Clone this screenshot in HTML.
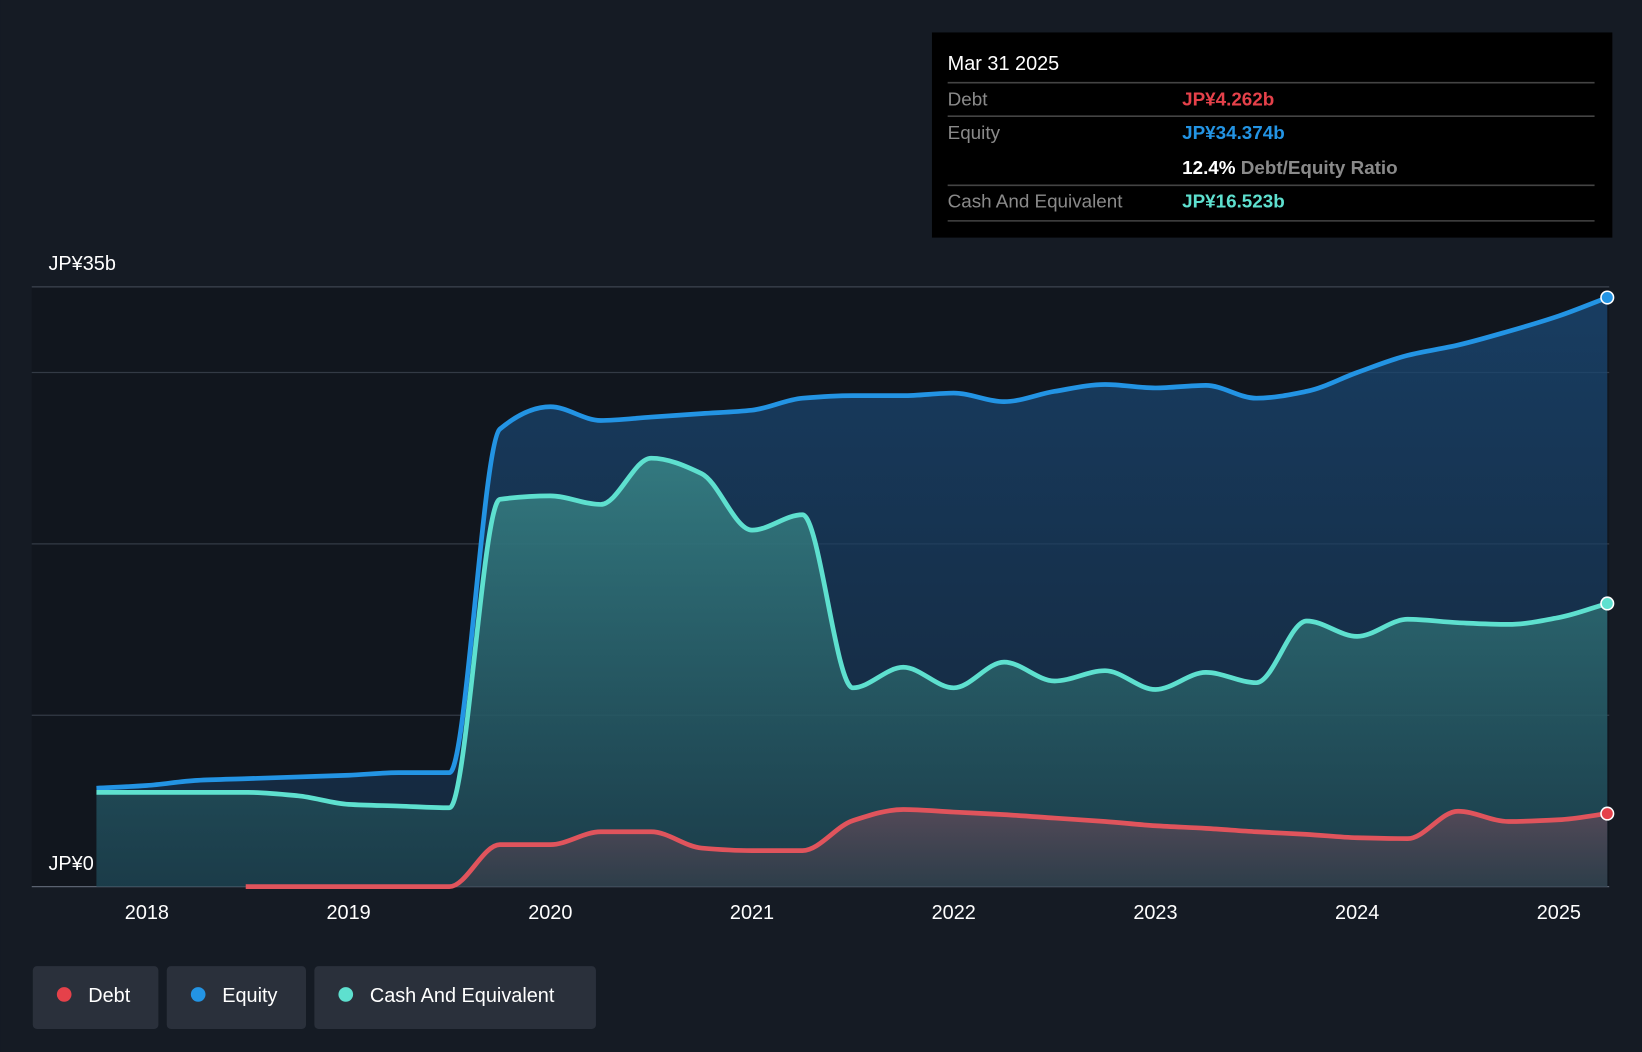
<!DOCTYPE html>
<html><head><meta charset="utf-8">
<style>
html,body{margin:0;padding:0;background:#151b24;overflow:hidden}
svg{display:block;font-family:"Liberation Sans",sans-serif}
</style></head>
<body>
<svg id="chart" width="1642" height="1052" viewBox="0 0 1568 1005">
<defs>
<linearGradient id="eqG" x1="0" y1="0" x2="0" y2="1"><stop offset="0" stop-color="#1a4a78" stop-opacity="0.75"/><stop offset="1" stop-color="#17324f" stop-opacity="0.6"/></linearGradient>
<linearGradient id="caG" x1="0" y1="0" x2="0" y2="1"><stop offset="0" stop-color="#3a8a8a" stop-opacity="0.8"/><stop offset="1" stop-color="#1f4a52" stop-opacity="0.6"/></linearGradient>
<linearGradient id="deG" x1="0" y1="0" x2="0" y2="1"><stop offset="0" stop-color="#6a4a5a" stop-opacity="0.7"/><stop offset="1" stop-color="#3a3f4a" stop-opacity="0.6"/></linearGradient>
</defs>
<rect x="0" y="0" width="1568" height="1005" fill="#151b24"/>
<rect x="30" y="274" width="1507" height="573" fill="#11161e"/>
<g id="grid"></g>
<g id="series"></g>
<g id="xaxis"></g>
<text x="46" y="258" fill="#ffffff" font-size="19">JP¥35b</text>
<text x="46" y="831" fill="#ffffff" font-size="19">JP¥0</text>

<g>
<rect x="890" y="31" width="650" height="196" fill="#000000"/>
<text x="905" y="67" fill="#ffffff" font-size="19">Mar 31 2025</text>
<line x1="905" y1="79" x2="1523" y2="79" stroke="#444" stroke-width="1.5"/>
<text x="905" y="101" fill="#8a8a8a" font-size="18">Debt</text>
<text x="1129" y="101" fill="#e5414a" font-size="18" font-weight="bold">JP¥4.262b</text>
<line x1="905" y1="111" x2="1523" y2="111" stroke="#444" stroke-width="1.5"/>
<text x="905" y="133" fill="#8a8a8a" font-size="18">Equity</text>
<text x="1129" y="133" fill="#2394e4" font-size="18" font-weight="bold">JP¥34.374b</text>
<text x="1129" y="166" fill="#ffffff" font-size="18" font-weight="bold">12.4% <tspan fill="#8a8a8a">Debt/Equity Ratio</tspan></text>
<line x1="905" y1="177" x2="1523" y2="177" stroke="#444" stroke-width="1.5"/>
<text x="905" y="198" fill="#8a8a8a" font-size="18">Cash And Equivalent</text>
<text x="1129" y="198" fill="#5ee0cf" font-size="18" font-weight="bold">JP¥16.523b</text>
<line x1="905" y1="211" x2="1523" y2="211" stroke="#444" stroke-width="1.5"/>
</g>

<g>
<g><rect x="31" y="923" width="120" height="60" rx="4" fill="#2a303b"/><circle cx="61" cy="950" r="7" fill="#e5414a"/><text x="84" y="957" fill="#fff" font-size="19">Debt</text></g>
<g><rect x="159" y="923" width="133" height="60" rx="4" fill="#2a303b"/><circle cx="189" cy="950" r="7" fill="#2394e4"/><text x="212" y="957" fill="#fff" font-size="19">Equity</text></g>
<g><rect x="300" y="923" width="269" height="60" rx="4" fill="#2a303b"/><circle cx="330" cy="950" r="7" fill="#5ee0cf"/><text x="353" y="957" fill="#fff" font-size="19">Cash And Equivalent</text></g>
</g>
</svg>
<script>
const NS="http://www.w3.org/2000/svg";
const dates=[2017.75,2018,2018.25,2018.5,2018.75,2019,2019.25,2019.5,2019.75,2020,2020.25,2020.5,2020.75,2021,2021.25,2021.5,2021.75,2022,2022.25,2022.5,2022.75,2023,2023.25,2023.5,2023.75,2024,2024.25,2024.5,2024.75,2025,2025.24];
const equity=[5.74,5.9,6.2,6.3,6.4,6.5,6.65,6.65,26.7,28.0,27.2,27.4,27.6,27.8,28.5,28.65,28.65,28.8,28.3,28.9,29.3,29.1,29.25,28.5,28.9,30.0,31.0,31.6,32.4,33.3,34.374];
const cash=[5.5,5.5,5.5,5.5,5.3,4.8,4.7,4.6,22.6,22.8,22.3,25.0,24.1,20.8,21.7,11.6,12.8,11.6,13.1,12.0,12.6,11.5,12.5,11.9,15.5,14.6,15.6,15.4,15.3,15.7,16.523];
const debtDates=[2018.49,2018.75,2019,2019.25,2019.5,2019.75,2020,2020.25,2020.5,2020.75,2021,2021.25,2021.5,2021.75,2022,2022.25,2022.5,2022.75,2023,2023.25,2023.5,2023.75,2024,2024.25,2024.5,2024.75,2025,2025.24];
const debt=[0,0,0,0,0,2.45,2.45,3.2,3.2,2.25,2.1,2.1,3.85,4.5,4.35,4.2,4.0,3.8,3.55,3.4,3.2,3.05,2.85,2.8,4.4,3.8,3.9,4.262];
const yearTicks=[2018,2019,2020,2021,2022,2023,2024,2025];
const gridVals=[0,10,20,30,35];

const X=d=>140+(d-2018)*192.7;
const Y=v=>847-v*(573/35);

function mono(xs,ys){
  const n=xs.length,d=[],m=[];
  for(let i=0;i<n-1;i++)d.push((ys[i+1]-ys[i])/(xs[i+1]-xs[i]));
  for(let i=0;i<n;i++){
    if(i==0)m.push(d[0]);else if(i==n-1)m.push(d[n-2]);
    else m.push(d[i-1]*d[i]<=0?0:(3*(d[i-1]+d[i]))/((2+d[i]/d[i-1])*1+ (2+d[i-1]/d[i])*1)*1);
  }
  for(let i=1;i<n-1;i++){if(d[i-1]*d[i]>0){m[i]=2/(1/d[i-1]+1/d[i]);}}
  let p="M"+xs[0]+","+ys[0];
  for(let i=0;i<n-1;i++){const h=xs[i+1]-xs[i];
    p+=" C"+(xs[i]+h/3)+","+(ys[i]+m[i]*h/3)+" "+(xs[i+1]-h/3)+","+(ys[i+1]-m[i+1]*h/3)+" "+xs[i+1]+","+ys[i+1];}
  return p;
}
function mk(tag,attrs,parent,name){const e=document.createElementNS(NS,tag);for(const k in attrs)e.setAttribute(k,attrs[k]);
  
  
  parent.appendChild(e);return e;}

const grid=document.getElementById('grid');
gridVals.forEach(v=>{const l=mk('line',{x1:30,x2:1537,y1:Y(v),y2:Y(v),stroke:v==0?'#5a6270':'#333a45','stroke-width':v==35?1.5:1.2},grid,'gridline-'+v);});
const xa=document.getElementById('xaxis');
yearTicks.forEach(t=>{const e=mk('text',{x:X(t),y:878,fill:'#fff','font-size':19,'text-anchor':'middle'},xa,'x-tick-'+t);e.textContent=t;});

const s=document.getElementById('series');
function series(ds,vs,lineCol,fill,name){
  const xs=ds.map(X),ys=vs.map(Y);const p=mono(xs,ys);
  mk('path',{d:p+" L"+xs[xs.length-1]+","+Y(0)+" L"+xs[0]+","+Y(0)+" Z",fill:fill},s,name+'-area');
  mk('path',{d:p,fill:'none',stroke:lineCol,'stroke-width':4.5,'stroke-linejoin':'round'},s,name+'-line');
  return [xs[xs.length-1],ys[ys.length-1]];
}
const e1=series(dates,equity,'#2394e4','url(#eqG)','equity');
const c1=series(dates,cash,'#5ee0cf','url(#caG)','cash');
const d1=series(debtDates,debt,'#e0545c','url(#deG)','debt');
mk('circle',{cx:e1[0],cy:e1[1],r:6,fill:'#2394e4',stroke:'#fff','stroke-width':1.5},s,'equity-end-dot');
mk('circle',{cx:c1[0],cy:c1[1],r:6,fill:'#5ee0cf',stroke:'#fff','stroke-width':1.5},s,'cash-end-dot');
mk('circle',{cx:d1[0],cy:d1[1],r:6,fill:'#e5414a',stroke:'#fff','stroke-width':1.5},s,'debt-end-dot');
</script>
</body></html>
